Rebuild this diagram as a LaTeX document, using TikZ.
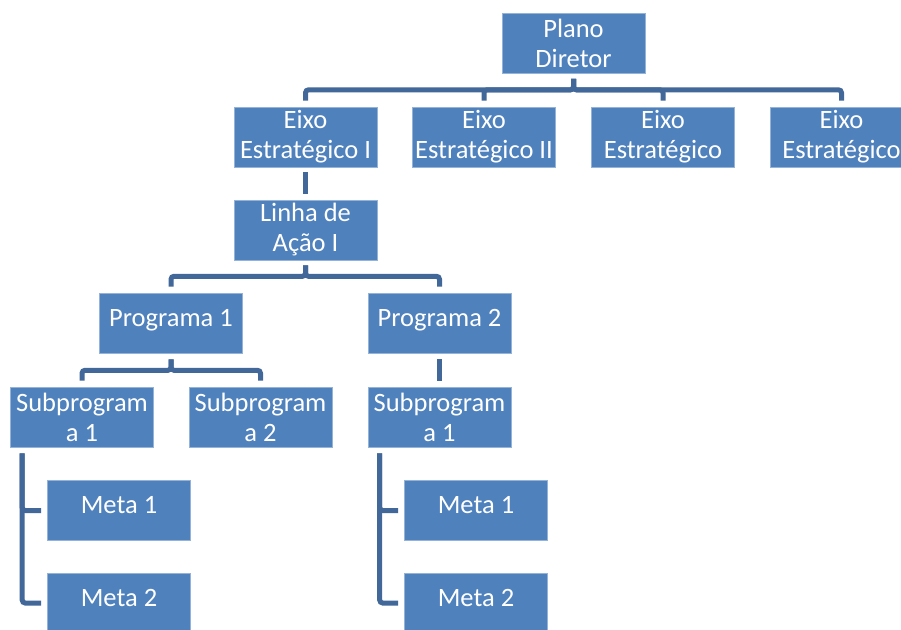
\documentclass[tikz,border=0pt]{standalone}
\usepackage{fontspec}
\setmainfont{Carlito}
\definecolor{boxblue}{HTML}{4F81BD}
\definecolor{lineblue}{HTML}{42689A}
\tikzset{box/.style={fill=boxblue,draw=boxblue!60!white,line width=0.6pt,text=white,minimum width=143,minimum height=60,inner sep=0pt,align=center,font=\fontsize{26.5}{30}\selectfont,execute at begin node=\rule{0pt}{21pt}}}
\tikzset{oneline/.style={text height=17pt,text depth=11pt}}
\tikzset{link/.style={draw=lineblue,line width=5pt,rounded corners=3pt}}

\begin{document}
\begin{tikzpicture}[x=1pt,y=-1pt]
	\clip (0,0) rectangle (901,629);
	\fill[white] (0,0) rectangle (901,629);
	\node[box] (PD) at (573.5,43.5) {Plano\\Diretor};
	\node[box] (EI) at (305.5,137) {Eixo\\Estratégico I};
	\node[box] (EII) at (484,137) {Eixo\\Estratégico II};
	\node[box] (EIII) at (663,137) {Eixo\\Estratégico};
	\node[box] (EIV) at (841.5,137) {Eixo\\Estratégico};
	\node[box] (LA) at (305.5,230) {Linha de\\Ação I};
	\node[box,oneline] (PG1) at (171,323) {Programa 1};
	\node[box,oneline] (PG2) at (439.5,323) {Programa 2};
	\node[box] (SP1) at (82,417) {Subprogram\\a 1};
	\node[box] (SP2) at (260.5,417) {Subprogram\\a 2};
	\node[box] (SP3) at (439.5,417) {Subprogram\\a 1};
	\node[box,oneline] (M1) at (119,510.5) {Meta 1};
	\node[box,oneline] (M2) at (119,603) {Meta 2};
	\node[box,oneline] (M3) at (476,510.5) {Meta 1};
	\node[box,oneline] (M4) at (476,603) {Meta 2};
	% eixos
	\draw[link] ([yshift=-5]PD.south) -- ++(0,11) -| ([yshift=6]EI.north);
	\draw[link] ([yshift=-5]PD.south) -- ++(0,11) -| ([yshift=6]EII.north);
	\draw[link] ([yshift=-5]PD.south) -- ++(0,11) -| ([yshift=6]EIII.north);
	\draw[link] ([yshift=-5]PD.south) -- ++(0,11) -| ([yshift=6]EIV.north);
	\draw[link] ([yshift=-5]EI.south) -- ([yshift=6]LA.north);
	% programas
	\draw[link] ([yshift=-5]LA.south) -- ++(0,11) -| ([yshift=6]PG1.north);
	\draw[link] ([yshift=-5]LA.south) -- ++(0,11) -| ([yshift=6]PG2.north);
	\draw[link] ([yshift=-6]PG1.south) -- ++(0,11) -| ([yshift=6]SP1.north);
	\draw[link] ([yshift=-6]PG1.south) -- ++(0,11) -| ([yshift=6]SP2.north);
	\draw[link] ([yshift=-6]PG2.south) -- ([yshift=6]SP3.north);
	% metas
	\draw[link] ([xshift=12,yshift=-6]SP1.south west) |- ([xshift=-6]M1.west);
	\draw[link] ([xshift=12,yshift=-6]SP1.south west) |- ([xshift=-6]M2.west);
	\draw[link] ([xshift=12,yshift=-6]SP3.south west) |- ([xshift=-6]M3.west);
	\draw[link] ([xshift=12,yshift=-6]SP3.south west) |- ([xshift=-6]M4.west);
\end{tikzpicture}
\end{document}
